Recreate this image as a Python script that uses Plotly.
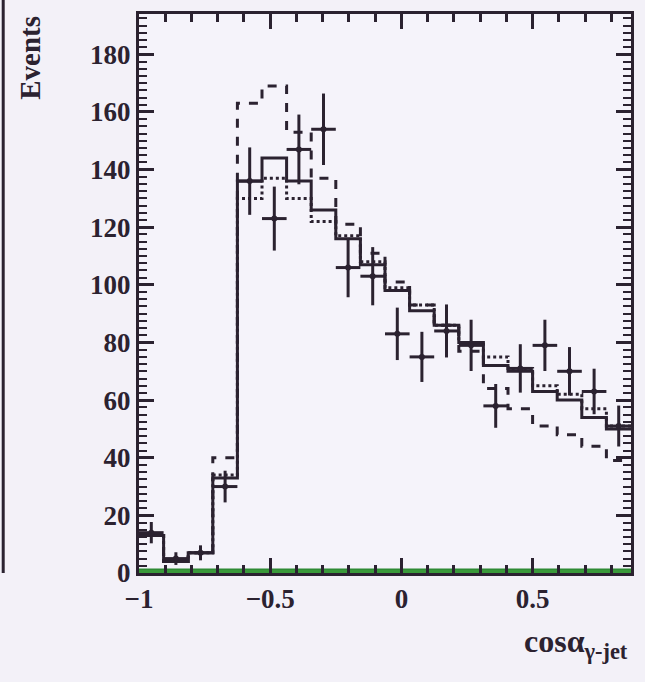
import plotly.graph_objects as go

# ---- data ----
x_lo, x_hi, n_bins = -1.0, 0.875, 20
data_vals = [14, 5, 7, 30, 136, 123, 147, 154, 106, 103, 83, 75, 84, 79, 58, 71, 79, 70, 63, 51]
data_errs = [3.7, 2.2, 2.6, 5.5, 11.7, 11.1, 12.1, 12.4, 10.3, 10.1, 9.1, 8.7, 9.2, 8.9, 7.6, 8.4, 8.9, 8.4, 7.9, 7.1]
mc_solid = [13, 4, 7, 33, 136, 144, 136, 126, 116, 107, 98, 91, 86, 80, 72, 70, 63, 60, 54, 50]
mc_dashed = [13, 4, 7, 40, 163, 169, 153, 137, 121, 111, 101, 93, 86, 77, 64, 57, 51, 48, 44, 39]
mc_dotted = [13, 4, 7, 34, 130, 137, 130, 122, 117, 108, 99, 93, 86, 80, 75, 71, 65, 62, 57, 51]
bkg_green = [1.3] * 20
x_tickvals = [-1, -0.5, 0, 0.5]
y_tickvals = [0, 20, 40, 60, 80, 100, 120, 140, 160, 180]

width = (x_hi - x_lo) / n_bins
edges = [x_lo + i * width for i in range(n_bins + 1)]
centers = [x_lo + (i + 0.5) * width for i in range(n_bins)]

ink = "#2b2230"
fig = go.Figure()

def step(vals, dash, w=3, color=ink, fill=None, fillcolor=None):
    return go.Scatter(x=edges, y=list(vals) + [vals[-1]], mode="lines",
                      line=dict(shape="hv", color=color, width=w, dash=dash),
                      fill=fill, fillcolor=fillcolor, hoverinfo="skip", showlegend=False)

fig.add_trace(step(bkg_green, "solid", w=1.5, color="#2f8a34", fill="tozeroy", fillcolor="#3a9a3a"))
fig.add_trace(step(mc_dotted, "dot", w=3))
fig.add_trace(step(mc_dashed, "dash", w=3))
fig.add_trace(step(mc_solid, "solid", w=3))
fig.add_trace(go.Scatter(
    x=centers, y=data_vals, mode="markers",
    marker=dict(size=6, color=ink),
    error_y=dict(type="data", array=data_errs, color=ink, thickness=3, width=0),
    error_x=dict(type="constant", value=width / 2, color=ink, thickness=3, width=0),
    showlegend=False, cliponaxis=False))

font_serif = "Liberation Serif, Times New Roman, serif"
tickfont = dict(family=font_serif, size=27, color=ink, weight="bold")
fig.update_layout(
    width=645, height=682,
    margin=dict(l=139, r=11, t=12, b=109),
    paper_bgcolor="#f3f1f8", plot_bgcolor="#f5f3fa",
    font=dict(family=font_serif, color=ink, size=22),
    xaxis=dict(range=[x_lo, x_hi], tickmode="linear", tick0=x_tickvals[0],
               dtick=x_tickvals[1] - x_tickvals[0],
               ticks="inside", ticklen=15, tickwidth=3, tickcolor=ink,
               minor=dict(dtick=0.1, ticks="inside", ticklen=8, tickwidth=3, tickcolor=ink),
               showline=True, linecolor=ink, linewidth=3, mirror="allticks",
               showgrid=False, zeroline=False, tickfont=tickfont),
    yaxis=dict(range=[0, 194], tickmode="linear", tick0=y_tickvals[0],
               dtick=y_tickvals[1] - y_tickvals[0],
               ticks="inside", ticklen=15, tickwidth=3, tickcolor=ink,
               minor=dict(dtick=2.5, ticks="inside", ticklen=8, tickwidth=2, tickcolor=ink),
               showline=True, linecolor=ink, linewidth=3, mirror="allticks",
               showgrid=False, zeroline=False, tickfont=tickfont),
)

fig.add_annotation(xref="paper", yref="paper", x=-0.222, y=1.0, xanchor="center", yanchor="top",
                   text="<b>Events</b>", textangle=-90, showarrow=False,
                   font=dict(family=font_serif, size=29, color=ink))
fig.add_annotation(xref="paper", yref="paper", x=0.998, y=-0.085, xanchor="right", yanchor="top",
                   text="<b>cosα<sub>γ-jet</sub></b>", showarrow=False,
                   font=dict(family=font_serif, size=32, color=ink))
# edge of neighbouring panel
fig.add_shape(type="line", xref="paper", yref="paper", x0=-0.276, x1=-0.276, y0=0, y1=1.03,
              line=dict(color=ink, width=3))

fig.write_html("out.html")
